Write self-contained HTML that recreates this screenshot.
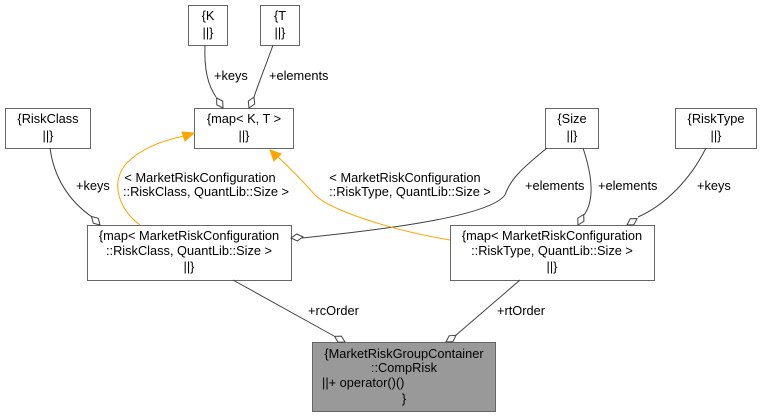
<!DOCTYPE html>
<html><head><meta charset="utf-8"><style>
html,body{margin:0;padding:0;background:#fff;width:761px;height:417px;overflow:hidden}
svg text{font-family:"Liberation Sans",sans-serif;font-size:12.8px;fill:#000}
</style></head><body>
<svg id="s" width="761" height="417" xmlns="http://www.w3.org/2000/svg">
<g fill="#fff" stroke="#666" stroke-width="1">
<rect x="188.5" y="5.5" width="39" height="40"/>
<rect x="260.5" y="5.5" width="39" height="40"/>
<rect x="194.5" y="108.5" width="99" height="40"/>
<rect x="5.5" y="108.5" width="85" height="40"/>
<rect x="545.5" y="108.5" width="53" height="40"/>
<rect x="675.5" y="108.5" width="81" height="40"/>
<rect x="87.5" y="225.5" width="204" height="55"/>
<rect x="450.5" y="225.5" width="204" height="55"/>
<rect x="312.5" y="342.5" width="183" height="69" fill="#999"/>
</g>
<g fill="none" stroke="#404040" stroke-width="1">
<path d="M205,45 C204,70 208,85 216,97"/>
<path d="M273,45 C266,65 259,82 254,97"/>
<path d="M50,148 C55,185 75,205 92,217"/>
<path d="M547,148 C520,170 510,180 505,195 C490,215 400,228 302,238"/>
<path d="M583,148 C592,175 595,200 584,215"/>
<path d="M706,148 C690,180 665,205 638,217"/>
<path d="M233,280 L334,336"/>
<path d="M520,280 L455,336"/>
</g>
<g fill="none" stroke="#ffa500" stroke-width="1">
<path d="M140,225 C120,210 110,185 125,165 C140,148 165,140 184,136"/>
<path d="M450,240 C390,230 330,210 315,195 C300,178 290,168 278,157"/>
</g>
<g fill="#ffa500" stroke="#ffa500">
<polygon points="194,133 182,132 185,141"/>
<polygon points="270,150 274,161 281,154"/>
</g>
<g id="dia" fill="#fff" stroke="#404040"></g>
<text x="208" y="20" text-anchor="middle">{K</text><text x="208" y="37" text-anchor="middle">||}</text>
<text x="280" y="20" text-anchor="middle">{T</text><text x="280" y="37" text-anchor="middle">||}</text>
<text x="244" y="123" text-anchor="middle">{map&lt; K, T &gt;</text><text x="244" y="140" text-anchor="middle">||}</text>
<text x="48" y="123" text-anchor="middle">{RiskClass</text><text x="48" y="140" text-anchor="middle">||}</text>
<text x="572" y="123" text-anchor="middle">{Size</text><text x="572" y="140" text-anchor="middle">||}</text>
<text x="716" y="123" text-anchor="middle">{RiskType</text><text x="716" y="140" text-anchor="middle">||}</text>
<text x="189" y="240" text-anchor="middle">{map&lt; MarketRiskConfiguration</text>
<text x="189" y="255" text-anchor="middle">::RiskClass, QuantLib::Size &gt;</text>
<text x="189" y="271" text-anchor="middle">||}</text>
<text x="552" y="240" text-anchor="middle">{map&lt; MarketRiskConfiguration</text>
<text x="552" y="255" text-anchor="middle">::RiskType, QuantLib::Size &gt;</text>
<text x="552" y="271" text-anchor="middle">||}</text>
<text x="404" y="358" text-anchor="middle">{MarketRiskGroupContainer</text>
<text x="404" y="372" text-anchor="middle">::CompRisk</text>
<text x="322" y="387">||+ operator()()</text>
<text x="404" y="403" text-anchor="middle">}</text>
<text x="214" y="80">+keys</text>
<text x="269" y="80">+elements</text>
<text x="76" y="190">+keys</text>
<text x="200" y="182" text-anchor="middle">&lt; MarketRiskConfiguration</text>
<text x="206" y="196" text-anchor="middle">::RiskClass, QuantLib::Size &gt;</text>
<text x="405" y="182" text-anchor="middle">&lt; MarketRiskConfiguration</text>
<text x="410" y="196" text-anchor="middle">::RiskType, QuantLib::Size &gt;</text>
<text x="525" y="190">+elements</text>
<text x="598" y="190">+elements</text>
<text x="697" y="190">+keys</text>
<text x="308" y="315">+rcOrder</text>
<text x="497" y="315">+rtOrder</text>
</svg>
<script>
(function(){
var g=document.getElementById('dia');
var d=[[223,108,216,97],[249,108,254,97],[100,225,92,217],[291,238,302,237],[578,225,584,214],[627,225,638,218],[345,342,334,336],[446,342,455,336]];
d.forEach(function(a){
var dx=a[2]-a[0],dy=a[3]-a[1],L=Math.hypot(dx,dy);dx/=L;dy/=L;
var l=12,w=3.5;
var mx=a[0]+dx*l/2,my=a[1]+dy*l/2;
var p=[[a[0],a[1]],[mx-dy*w,my+dx*w],[a[0]+dx*l,a[1]+dy*l],[mx+dy*w,my-dx*w]];
var e=document.createElementNS('http://www.w3.org/2000/svg','polygon');
e.setAttribute('points',p.map(function(q){return q[0].toFixed(1)+','+q[1].toFixed(1)}).join(' '));
g.appendChild(e);
});
})();
</script>
</body></html>
